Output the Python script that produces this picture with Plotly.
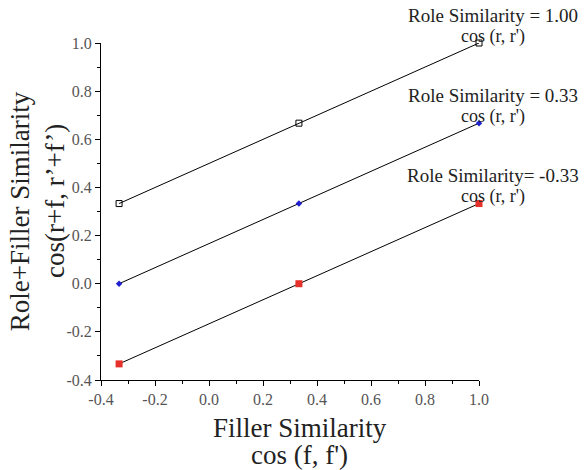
import plotly.graph_objects as go

filler_sim = [-0.333, 0.333, 1.0]
series_names = ["Role Similarity = 1.00", "Role Similarity = 0.33", "Role Similarity= -0.33"]
series_values = [
    [0.333, 0.667, 1.0],
    [0.0, 0.333, 0.667],
    [-0.333, 0.0, 0.333],
]
sublabel = "cos (r, r')"
tick_vals = [-0.4, -0.2, 0.0, 0.2, 0.4, 0.6, 0.8, 1.0]
tick_text = ["-0.4", "-0.2", "0.0", "0.2", "0.4", "0.6", "0.8", "1.0"]
x_title = ["Filler Similarity", "cos (f, f')"]
y_title = ["Role+Filler Similarity", "cos(r+f, r’+f’)"]

marker_styles = [
    dict(symbol="square-open", color="black", size=6, line=dict(width=1, color="black")),
    dict(symbol="diamond", color="#1f1fd0", size=5, line=dict(width=0)),
    dict(symbol="square", color="#e8302a", size=7, line=dict(width=0)),
]

SERIF = "Liberation Serif, Times New Roman, serif"
TXT = "#222222"

fig = go.Figure()
for name, vals, ms in zip(series_names, series_values, marker_styles):
    fig.add_trace(go.Scatter(
        x=filler_sim, y=vals, mode="lines+markers", name=name,
        line=dict(color="black", width=1), marker=ms, showlegend=False,
        cliponaxis=False,
    ))

# series labels next to the end points
for name, vals in zip(series_names, series_values):
    fig.add_annotation(x=filler_sim[-1], y=vals[-1], xref="x", yref="y", text=name,
                       showarrow=False, xanchor="center", yanchor="middle",
                       xshift=14, yshift=28, font=dict(family=SERIF, size=19, color=TXT))
    fig.add_annotation(x=filler_sim[-1], y=vals[-1], xref="x", yref="y", text=sublabel,
                       showarrow=False, xanchor="center", yanchor="middle",
                       xshift=14, yshift=7, font=dict(family=SERIF, size=18, color=TXT))

# x axis title (two lines)
fig.add_annotation(x=0.526, y=0, xref="paper", yref="paper", text=x_title[0],
                   showarrow=False, xanchor="center", yanchor="middle", yshift=-48,
                   font=dict(family=SERIF, size=27, color=TXT))
fig.add_annotation(x=0.526, y=0, xref="paper", yref="paper", text=x_title[1],
                   showarrow=False, xanchor="center", yanchor="middle", yshift=-75,
                   font=dict(family=SERIF, size=27, color=TXT))
# y axis title (two lines, rotated)
fig.add_annotation(x=0, y=0.501, xref="paper", yref="paper", text=y_title[0],
                   showarrow=False, xanchor="center", yanchor="middle", xshift=-81,
                   textangle=-90, font=dict(family=SERIF, size=27, color=TXT))
fig.add_annotation(x=0, y=0.531, xref="paper", yref="paper", text=y_title[1],
                   showarrow=False, xanchor="center", yanchor="middle", xshift=-46,
                   textangle=-90, font=dict(family=SERIF, size=27, color=TXT))

axis_common = dict(
    showgrid=False, zeroline=False, showline=True, linecolor="black", linewidth=1,
    ticks="outside", ticklen=5, tickcolor="black", tickwidth=1,
    tickfont=dict(family=SERIF, size=16, color="#555555"),
    tickmode="array", tickvals=tick_vals, ticktext=tick_text,
    minor=dict(dtick=0.1, tick0=-0.4, ticks="outside", ticklen=3, tickcolor="black"),
)
fig.update_xaxes(range=[-0.4, 1.0], **axis_common)
fig.update_yaxes(range=[-0.4, 1.0], **axis_common)

fig.update_layout(
    width=587, height=470, plot_bgcolor="white", paper_bgcolor="white",
    margin=dict(l=101, r=108, t=43, b=90, autoexpand=False),
    font=dict(family=SERIF),
)
# remove the browser's default 8px body margin so the figure fills the window
fig.write_html("out.html", config={"displayModeBar": False},
               post_script="document.body.style.margin='0';")
